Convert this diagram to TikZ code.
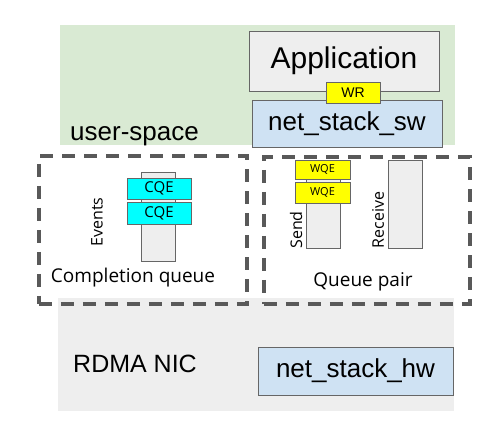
\documentclass[tikz,border=0pt]{standalone}
\usepackage{fontspec}
\setmainfont{Liberation Sans}
\newfontfamily\osf{Open Sans}
\definecolor{bggreen}{HTML}{D9EAD3}
\definecolor{bggray}{HTML}{EEEEEE}
\definecolor{boxgray}{HTML}{EEEEEE}
\definecolor{bord}{HTML}{666666}
\definecolor{swblue}{HTML}{CFE2F3}
\definecolor{wqeyel}{HTML}{FFFF00}
\definecolor{cqecyan}{HTML}{00FFFF}
\definecolor{dashc}{HTML}{595959}
\tikzset{
  region/.style={draw=none,inner sep=0pt,anchor=north west},
  swbox/.style={draw=bord,line width=1pt,inner sep=0pt},
  column/.style={draw=bord,fill=boxgray,line width=1pt,inner sep=0pt,minimum width=34pt},
  entry/.style={draw=bord,line width=1pt,inner sep=0pt},
  group/.style={draw=dashc,line width=3.5pt,dash pattern=on 13pt off 9pt,inner sep=0pt,anchor=north west},
  vlabel/.style={rotate=90,inner sep=0pt,font=\osf\fontsize{16}{16}\selectfont},
}
\begin{document}
\begin{tikzpicture}[x=1pt,y=-1pt]
\useasboundingbox[fill=white] (0,0) rectangle (492,432);
% backgrounds
\node[region,fill=bggray,minimum width=396pt,minimum height=113pt] (nic) at (58,298) {};
\node[region,fill=bggreen,minimum width=395pt,minimum height=120pt] (user) at (60,25) {};
\node[anchor=base west,inner sep=0pt,font=\fontsize{26}{26}\selectfont] (userlbl) at (70,140) {user-space};
\node[anchor=base west,inner sep=0pt,font=\fontsize{25}{25}\selectfont] (niclbl) at (73,372) {RDMA NIC};
% application stack
\node[swbox,fill=boxgray,minimum width=190pt,minimum height=60pt,font=\fontsize{30}{30}\selectfont] (app) at (344,61) {Application};
\node[swbox,fill=swblue,minimum width=190pt,minimum height=47pt,font=\fontsize{26}{26}\selectfont] (sw) at (347,123.5) {net\_stack\_sw};
\node[entry,fill=wqeyel,minimum width=54pt,minimum height=21pt,font=\fontsize{14}{14}\selectfont] (wr) at (353,92.5) {WR};
\node[swbox,fill=swblue,minimum width=195pt,minimum height=48pt,font=\fontsize{26}{26}\selectfont] (hw) at (355.5,371) {net\_stack\_hw};
% completion queue
\node[group,minimum width=208pt,minimum height=148pt] (cq) at (37,154) {};
\node[column,minimum height=89pt] (cqcol) at (158,216.5) {};
\node[entry,fill=cqecyan,minimum width=64pt,minimum height=21pt,font=\osf\fontsize{15}{15}\selectfont] (cqe1) at (159,188.5) {CQE};
\node[entry,fill=cqecyan,minimum width=64pt,minimum height=22pt,font=\osf\fontsize{15}{15}\selectfont] (cqe2) at (159,213) {CQE};
\node[vlabel] (events) at (97,222) {Events};
\node[font=\osf\fontsize{19}{19}\selectfont,inner sep=0pt] (cqlbl) at (133,278) {Completion queue};
% queue pair
\node[group,minimum width=206pt,minimum height=147pt] (qp) at (262,155) {};
\node[column,minimum height=88pt] (send) at (323,204) {};
\node[column,minimum height=88pt] (recv) at (405,204) {};
\node[entry,fill=wqeyel,minimum width=55pt,minimum height=19pt,font=\osf\fontsize{11}{11}\selectfont] (wqe1) at (322.5,169.5) {WQE};
\node[entry,fill=wqeyel,minimum width=55pt,minimum height=21pt,font=\osf\fontsize{11}{11}\selectfont] (wqe2) at (322.5,192.5) {WQE};
\node[vlabel] (sendlbl) at (296,230) {Send};
\node[vlabel] (recvlbl) at (378,220) {Receive};
\node[font=\osf\fontsize{19}{19}\selectfont,inner sep=0pt] (qplbl) at (363,282) {Queue pair};
\end{tikzpicture}
\end{document}
